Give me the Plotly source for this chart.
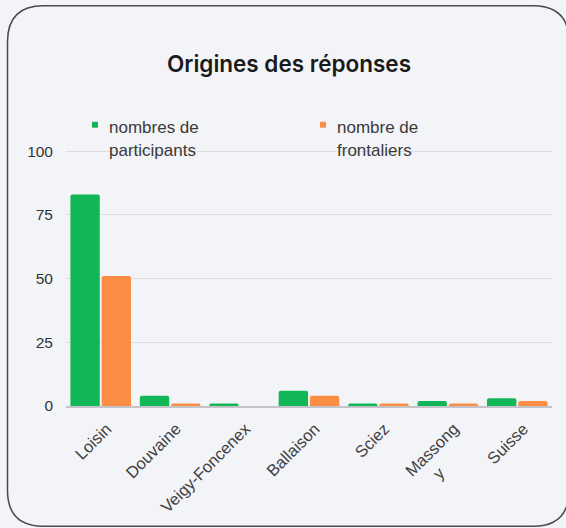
import plotly.graph_objects as go

categories = ["Loisin", "Douvaine", "Veigy-Foncenex", "Ballaison", "Sciez", "Massongy", "Suisse"]
tick_labels = ["Loisin", "Douvaine", "Veigy-Foncenex", "Ballaison", "Sciez",
               "Massong<br>y" + "\u00a0" * 9, "Suisse"]
participants = [83, 4, 1, 6, 1, 2, 3]
frontaliers = [51, 1, 0, 4, 1, 1, 2]
series_names = ["nombres de<br>participants", "nombre de<br>frontaliers"]
series_colors = ["#11b757", "#fb8d44"]
y_ticks = [0, 25, 50, 75, 100]
title_text = "Origines des réponses"

W, H = 566, 528
Y_TOP = 100.5
PL, PR, PB = 66, 14, 117.5
PT = 151 - (Y_TOP - 100) * 2.577
PW, PH = W - PL - PR, H - PT - PB

fig = go.Figure()
for vals, name, col in zip([participants, frontaliers], series_names, series_colors):
    fig.add_trace(go.Bar(x=categories, y=vals, name=name, marker_color=col,
                         marker_line_width=0, showlegend=False))

def px_x(x):
    return (x - PL) / PW

def px_y(y):
    return 1 + (PT - y) / PH

# manual legend (marker squares + wrapped text)
leg_x = [95, 323]
shapes = []
annotations = []
for lx, name, col in zip(leg_x, series_names, series_colors):
    shapes.append(dict(type="rect", xref="paper", yref="paper",
                       x0=px_x(lx - 3), x1=px_x(lx + 3), y0=px_y(127), y1=px_y(121),
                       fillcolor=col, line_width=0, layer="above"))
    for i, line in enumerate(name.split("<br>")):
        cy = 127 + i * 23
        annotations.append(dict(text=line, xref="paper", yref="paper",
                                x=px_x(lx + 12), y=px_y(cy),
                                xanchor="left", yanchor="middle", showarrow=False,
                                font=dict(family="Liberation Sans", size=17, color="#3a3a3a")))

# rounded frame, in pixels relative to the plot's top-left corner
r = 36
x0, y0, x1, y1 = 7.5 - PL, PT - 5.5, 569 - PL, PT - 526
frame_path = (f"M{x0},{y0-r} Q{x0},{y0} {x0+r},{y0} L{x1-r},{y0} Q{x1},{y0} {x1},{y0-r} "
              f"L{x1},{y1+r} Q{x1},{y1} {x1-r},{y1} L{x0+r},{y1} Q{x0},{y1} {x0},{y1+r} Z")
shapes.append(dict(type="path", xref="paper", yref="paper", xsizemode="pixel", ysizemode="pixel",
                   xanchor=0, yanchor=1, path=frame_path,
                   line=dict(color="#4a4a4a", width=1.5), layer="above"))

fig.update_layout(
    width=W, height=H,
    margin=dict(l=PL, r=PR, t=PT, b=PB),
    paper_bgcolor="#f3f4f8", plot_bgcolor="#f3f4f8",
    barmode="group", bargap=0.1, bargroupgap=0.06, barcornerradius=2,
    title=dict(text=title_text, x=289 / W, xanchor="center", y=1 - 64 / H, yanchor="middle",
               font=dict(family="Inter", size=22.5, color="#1a1a1a", weight=600)),
    xaxis=dict(tickangle=-45, tickvals=categories, ticktext=tick_labels,
               tickfont=dict(family="Liberation Sans", size=16.5, color="#404040"),
               showline=True, linecolor="#c4c4c8", linewidth=1.5, showgrid=False,
               ticks="", ticklabelshift=6, ticklabelstandoff=5),
    yaxis=dict(range=[0, Y_TOP], tickvals=y_ticks, showgrid=True, gridcolor="#dcdde0", gridwidth=1,
               zeroline=False, tickfont=dict(family="Liberation Sans", size=15.5, color="#333333"),
               ticklabelstandoff=12),
    shapes=shapes, annotations=annotations,
)

fig.write_html("out.html", config={"displayModeBar": False},
               post_script="document.body.style.margin='0';document.body.style.background='#f3f4f8';")
